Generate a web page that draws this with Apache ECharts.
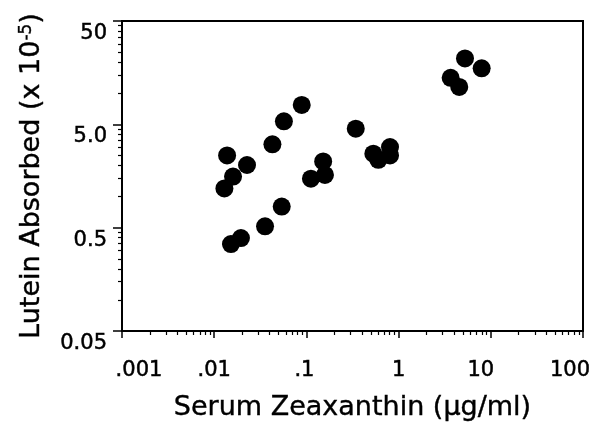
<!DOCTYPE html>
<html>
<head>
<meta charset="utf-8">
<script src="https://cdn.jsdelivr.net/npm/echarts@6/dist/echarts.min.js"></script>
<style>
html,body{margin:0;padding:0;background:#fff;}
#chart{width:594px;height:430px;}
</style>
</head>
<body>
<div id="chart"></div>
<script>
// Serum zeaxanthin (ug/ml)
var zeaxanthin = [0.0138, 0.0227, 0.016, 0.0129, 0.0428, 0.057, 0.089,
  0.152, 0.159, 0.112, 0.054, 0.0356, 0.0195, 0.0152,
  0.343, 0.532, 0.807, 0.603, 0.807,
  5.25, 7.96, 3.67, 4.55];
// Lutein absorbed (x 10^-5)
var luteinAbsorbed = [2.5, 2.02, 1.56, 1.2, 3.2, 5.35, 7.7,
  2.19, 1.62, 1.49, 0.8, 0.515, 0.397, 0.347,
  4.54, 2.6, 3.01, 2.27, 2.5,
  21.7, 17.4, 14.1, 11.5];

var xTickValues = [0.001, 0.01, 0.1, 1, 10, 100];
var xTickLabels = ['.001', '.01', '.1', '1', '10', '100'];
var yTickValues = [0.05, 0.5, 5, 50];
var yTickLabels = ['0.05', '0.5', '5.0', '50'];
var minorMultipliers = [2, 3, 4, 5, 6, 7, 8, 9];

// styling: horizontal nudges of the x tick labels (px), as in the original figure
var xLabelNudge = [17, 0, -2, 0, -10, -13];

var FONT = 'DejaVu Sans';
var TICK_TEXT = {fontFamily: FONT, fontSize: 21, color: '#000', textBorderColor: '#000', textBorderWidth: 0.5};

function minorTicks(majors) {
  var out = [];
  for (var i = 0; i < majors.length - 1; i++) {
    for (var j = 0; j < minorMultipliers.length; j++) {
      out.push(majors[i] * minorMultipliers[j]);
    }
  }
  return out;
}
function indexOfValue(values, v) {
  for (var i = 0; i < values.length; i++) {
    if (Math.abs(v - values[i]) / values[i] < 1e-6) return i;
  }
  return -1;
}
function withStyle(extra) {
  var o = {};
  for (var k in TICK_TEXT) o[k] = TICK_TEXT[k];
  for (var k2 in extra) o[k2] = extra[k2];
  return o;
}
var xRich = {};
xLabelNudge.forEach(function (dx, i) {
  xRich['l' + i] = withStyle({
    padding: dx >= 0 ? [0, 0, 0, 2 * dx] : [0, -2 * dx, 0, 0]
  });
});

var points = zeaxanthin.map(function (x, i) { return [x, luteinAbsorbed[i]]; });

var chart = echarts.init(document.getElementById('chart'), null, {renderer: 'canvas'});
chart.setOption({
  animation: false,
  backgroundColor: '#fff',
  grid: {
    left: 122, right: 11, top: 21, bottom: 99,
    show: true, borderColor: '#000', borderWidth: 2,
    containLabel: false, outerBoundsMode: 'none'
  },
  xAxis: [{
    type: 'log', logBase: 10, min: 0.001, max: 100,
    name: 'Serum Zeaxanthin (\u03bcg/ml)',
    nameLocation: 'middle', nameGap: 63,
    nameTextStyle: {fontFamily: FONT, fontSize: 27, color: '#000', textBorderColor: '#000', textBorderWidth: 0.4},
    axisLine: {show: true, lineStyle: {color: '#000', width: 2}},
    axisTick: {show: true, inside: false, length: 7, lineStyle: {color: '#000', width: 1.5}, customValues: xTickValues},
    axisLabel: withStyle({show: true, margin: 29,
      customValues: xTickValues, rich: xRich,
      formatter: function (v) {
        var i = indexOfValue(xTickValues, v);
        return i < 0 ? '' : '{l' + i + '|' + xTickLabels[i] + '}';
      }}),
    splitLine: {show: false},
    minorTick: {show: false}
  }, {
    type: 'log', logBase: 10, min: 0.001, max: 100, position: 'bottom',
    axisLine: {show: false},
    axisTick: {show: true, inside: false, length: 4, lineStyle: {color: '#000', width: 1.2}, customValues: minorTicks(xTickValues)},
    axisLabel: {show: false},
    splitLine: {show: false}
  }],
  yAxis: [{
    type: 'log', logBase: 10, min: 0.05, max: 50,
    name: 'Lutein Absorbed (x 10{sup|-5})',
    nameLocation: 'middle', nameGap: 77, nameRotate: 90,
    nameTextStyle: {fontFamily: FONT, fontSize: 27, color: '#000', textBorderColor: '#000', textBorderWidth: 0.4,
      rich: {sup: {fontFamily: FONT, fontSize: 17, color: '#000', textBorderColor: '#000', textBorderWidth: 0.4, verticalAlign: 'top', lineHeight: 20}}},
    axisLine: {show: true, lineStyle: {color: '#000', width: 2}},
    axisTick: {show: true, inside: false, length: 9, lineStyle: {color: '#000', width: 1.5}, customValues: yTickValues},
    axisLabel: withStyle({show: true, margin: 15,
      customValues: yTickValues,
      rich: {y: withStyle({padding: [25, 0, 0, 0]})},
      formatter: function (v) {
        var i = indexOfValue(yTickValues, v);
        return i < 0 ? '' : '{y|' + yTickLabels[i] + '}';
      }}),
    splitLine: {show: false},
    minorTick: {show: false}
  }, {
    type: 'log', logBase: 10, min: 0.05, max: 50, position: 'left',
    axisLine: {show: false},
    axisTick: {show: true, inside: false, length: 4, lineStyle: {color: '#000', width: 1.2}, customValues: minorTicks(yTickValues)},
    axisLabel: {show: false},
    splitLine: {show: false}
  }],
  series: [{
    type: 'scatter',
    xAxisIndex: 0, yAxisIndex: 0,
    symbol: 'circle', symbolSize: 18,
    itemStyle: {color: '#000', opacity: 1},
    data: points
  }]
});
</script>
</body>
</html>
